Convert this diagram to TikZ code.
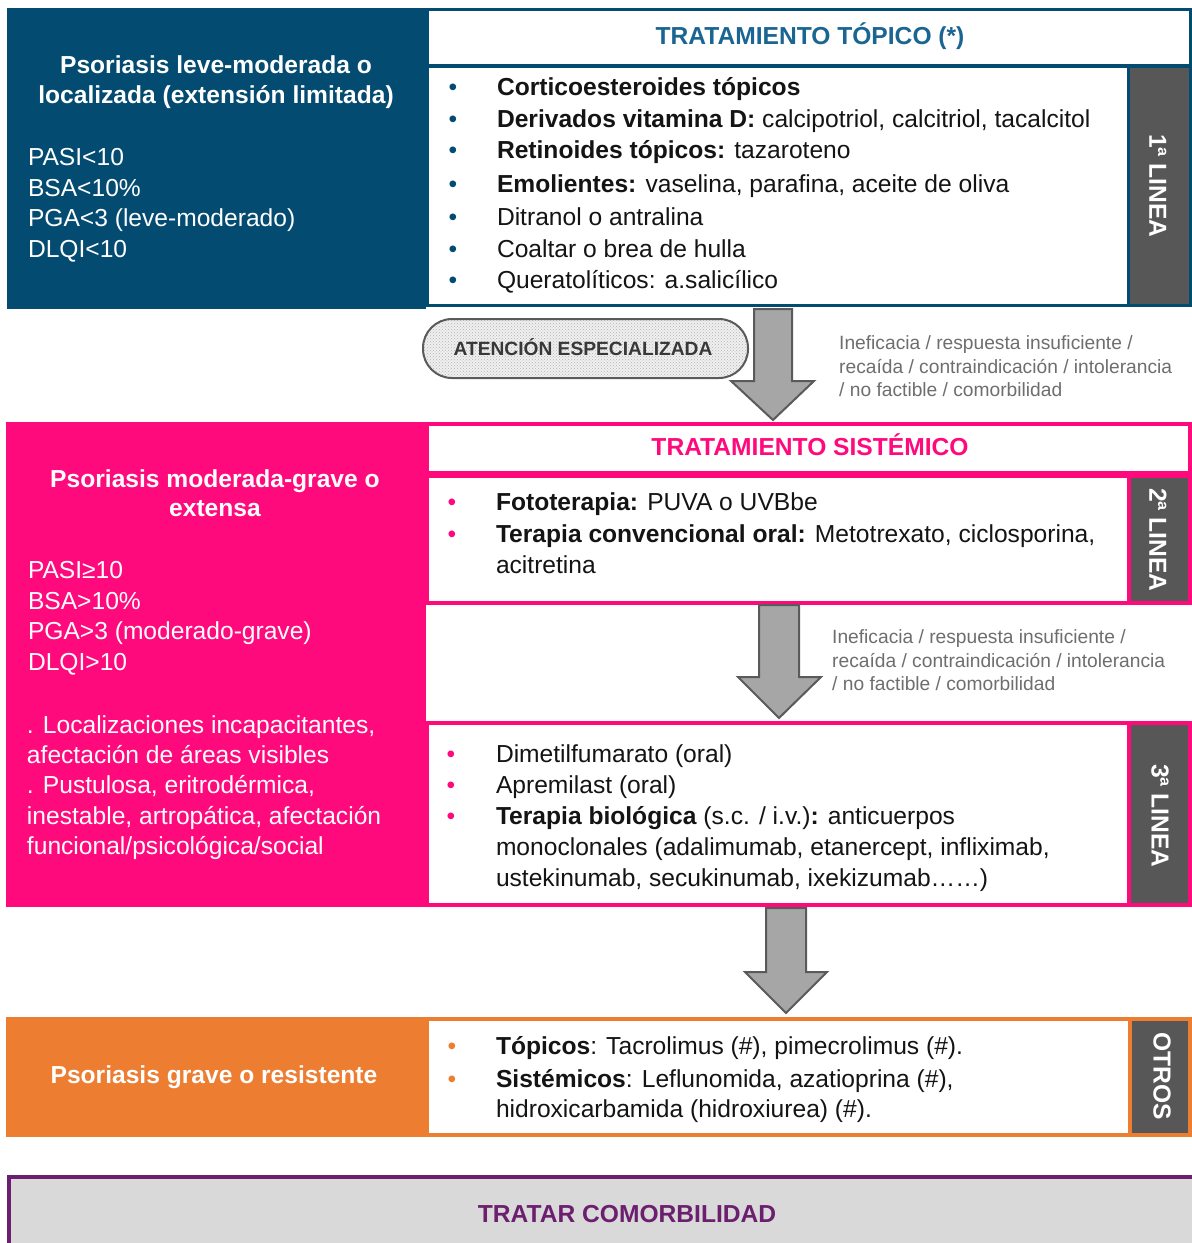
\documentclass[tikz,border=0pt]{standalone}
\usepackage{fontspec}
\setmainfont{Liberation Sans}
\usetikzlibrary{patterns}
\definecolor{dblue}{HTML}{034B70}
\definecolor{hblue}{HTML}{1B6593}
\definecolor{pinkc}{HTML}{FF0A7D}
\definecolor{orangec}{HTML}{ED7D31}
\definecolor{sidegray}{HTML}{575757}
\definecolor{arrowgray}{HTML}{A6A6A6}
\definecolor{arrowedge}{HTML}{5A5A5A}
\definecolor{anngray}{HTML}{6E6E6E}
\definecolor{purplec}{HTML}{6B1F6E}
\definecolor{lgray}{HTML}{D9D9D9}
\definecolor{txtc}{HTML}{141414}
\newcommand\mainfs{\fontsize{24.6}{28}\selectfont}
\begin{document}
\begin{tikzpicture}[x=1pt,y=-1pt,
  basefont/.style={inner sep=0pt, outer sep=0pt, font=\mainfs, text=txtc},
  lt/.style={basefont, anchor=base west},
  ct/.style={basefont, anchor=base},
  bct/.style={ct, font=\bfseries\mainfs},
  wl/.style={lt, text=white},
  wc/.style={bct, text=white},
  ann/.style={inner sep=0pt, anchor=base west, font=\fontsize{19.2}{22}\selectfont, text=anngray},
  sidelab/.style={inner sep=0pt, rotate=-90, font=\bfseries\mainfs, text=white},
  blk/.style={fill=arrowgray, draw=arrowedge, line width=2pt, line join=miter},
  bbox/.style={draw=dblue, line width=3pt, fill=white},
  pbox/.style={draw=pinkc, line width=3.5pt, fill=white},
  obox/.style={draw=orangec, line width=3.5pt, fill=white},
]
\useasboundingbox (0,0) rectangle (1192,1243);
\fill[white] (0,0) rectangle (1192,1243);

% ===== Section 1 (blue) =====
\fill[dblue] (7,8) rectangle (426,309);
\draw[bbox] (427,9) rectangle (1190,65);
\draw[bbox] (427,66) rectangle (1128,305);
\draw[bbox, fill=sidegray] (1128,66) rectangle (1190,305);

\node[wc] (t1a) at (216,73) {Psoriasis leve-moderada o};
\node[wc] (t1b) at (216,103) {localizada (extensión limitada)};
\node[wl] (t1c) at (28,165) {PASI<10};
\node[wl] (t1d) at (28,196) {BSA<10\%};
\node[wl] (t1e) at (28,226) {PGA<3 (leve-moderado)};
\node[wl] (t1f) at (28,257) {DLQI<10};

\node[bct, text=hblue] (h1) at (810,44) {TRATAMIENTO TÓPICO (*)};

\foreach \yy [count=\i] in {95,127,158,192,225,257,288}
  \node[ct, text=dblue] (bu1\i) at (453,\yy) {•};
\node[lt] (l1a) at (497,95) {\textbf{Corticoesteroides tópicos}};
\node[lt] (l1b) at (497,127) {\textbf{Derivados vitamina D:} calcipotriol, calcitriol, tacalcitol};
\node[lt] (l1c) at (497,158) {\textbf{Retinoides tópicos:} tazaroteno};
\node[lt] (l1d) at (497,192) {\textbf{Emolientes:} vaselina, parafina, aceite de oliva};
\node[lt] (l1e) at (497,225) {Ditranol o antralina};
\node[lt] (l1f) at (497,257) {Coaltar o brea de hulla};
\node[lt] (l1g) at (497,288) {Queratolíticos: a.salicílico};

\node[sidelab] (s1) at (1158,186) {1ª LINEA};

% ===== transition 1 =====
\draw[preaction={fill=gray!12}, pattern=crosshatch dots, pattern color=gray!60, draw=arrowedge, line width=2pt, rounded corners=29pt]
  (423,319) rectangle (748,378);
\node[ct, text=black!78, font=\bfseries\fontsize{19.2}{22}\selectfont] (ae) at (583,355) {ATENCIÓN ESPECIALIZADA};

\draw[blk] (754,309) -- (792,309) -- (792,381) -- (814,381) -- (773,420) -- (731,381) -- (754,381) -- cycle;

\node[ann] (a1a) at (839,349.5) {Ineficacia / respuesta insuficiente /};
\node[ann] (a1b) at (839,373) {recaída / contraindicación / intolerancia};
\node[ann] (a1c) at (839,396.5) {/ no factible / comorbilidad};

% ===== Section 2 (pink) =====
\fill[pinkc] (6,422) rectangle (426,907);
\draw[pbox] (427,424) rectangle (1190,473);
\draw[pbox] (427,476) rectangle (1129,603);
\draw[pbox, fill=sidegray] (1129,476) rectangle (1190,603);

\node[wc] (t2a) at (215,487) {Psoriasis moderada-grave o};
\node[wc] (t2b) at (215,516) {extensa};
\node[wl] (t2c) at (28,578) {PASI≥10};
\node[wl] (t2d) at (28,609) {BSA>10\%};
\node[wl] (t2e) at (28,639) {PGA>3 (moderado-grave)};
\node[wl] (t2f) at (28,670) {DLQI>10};
\node[wl] (t2g) at (27,733) {. Localizaciones incapacitantes,};
\node[wl] (t2h) at (27,763) {afectación de áreas visibles};
\node[wl] (t2i) at (27,793) {. Pustulosa, eritrodérmica,};
\node[wl] (t2j) at (27,824) {inestable, artropática, afectación};
\node[wl] (t2k) at (27,854) {funcional/psicológica/social};

\node[bct, text=pinkc] (h2) at (810,455) {TRATAMIENTO SISTÉMICO};

\node[ct, text=pinkc] (bu21) at (452,510) {•};
\node[ct, text=pinkc] (bu22) at (452,542) {•};
\node[lt] (l2a) at (496,510) {\textbf{Fototerapia:} PUVA o UVBbe};
\node[lt] (l2b) at (496,542) {\textbf{Terapia convencional oral:} Metotrexato, ciclosporina,};
\node[lt] (l2c) at (496,573) {acitretina};

\node[sidelab] (s2) at (1158,540) {2ª LINEA};

\draw[blk] (759,605) -- (799,605) -- (799,677) -- (821,677) -- (779,718) -- (738,677) -- (759,677) -- cycle;

\node[ann] (a2a) at (832,643) {Ineficacia / respuesta insuficiente /};
\node[ann] (a2b) at (832,667) {recaída / contraindicación / intolerancia};
\node[ann] (a2c) at (832,690) {/ no factible / comorbilidad};

\draw[pbox] (427,723) rectangle (1129,905);
\draw[pbox, fill=sidegray] (1129,723) rectangle (1190,905);

\foreach \yy [count=\i] in {762,793,824}
  \node[ct, text=pinkc] (bu3\i) at (451,\yy) {•};
\node[lt] (l3a) at (496,762) {Dimetilfumarato (oral)};
\node[lt] (l3b) at (496,793) {Apremilast (oral)};
\node[lt] (l3c) at (496,824) {\textbf{Terapia biológica} (s.c. / i.v.)\textbf{:} anticuerpos};
\node[lt] (l3d) at (496,855) {monoclonales (adalimumab, etanercept, infliximab,};
\node[lt] (l3e) at (496,886) {ustekinumab, secukinumab, ixekizumab……)};

\node[sidelab] (s3) at (1160,816) {3ª LINEA};

% ===== transition 3 =====
\draw[blk] (766,908) -- (806,908) -- (806,972) -- (827,972) -- (786,1013) -- (745,972) -- (766,972) -- cycle;

% ===== Section 3 (orange) =====
\fill[orangec] (6,1017) rectangle (426,1137);
\draw[obox] (427,1019) rectangle (1130,1135);
\draw[obox, fill=sidegray] (1130,1019) rectangle (1190,1135);

\node[wc] (t4a) at (214,1083) {Psoriasis grave o resistente};

\node[ct, text=orangec] (bu41) at (452,1054) {•};
\node[ct, text=orangec] (bu42) at (452,1087) {•};
\node[lt] (l4a) at (496,1054) {\textbf{Tópicos}: Tacrolimus (\#), pimecrolimus (\#).};
\node[lt] (l4b) at (496,1087) {\textbf{Sistémicos}: Leflunomida, azatioprina (\#),};
\node[lt] (l4c) at (496,1117) {hidroxicarbamida (hidroxiurea) (\#).};

\node[sidelab] (s4) at (1162,1076) {OTROS};

% ===== bottom =====
\draw[fill=lgray, draw=purplec, line width=3.5pt] (9,1177) rectangle (1196,1252);
\node[bct, text=purplec] (bot) at (627,1222) {TRATAR COMORBILIDAD};
\end{tikzpicture}
\end{document}
